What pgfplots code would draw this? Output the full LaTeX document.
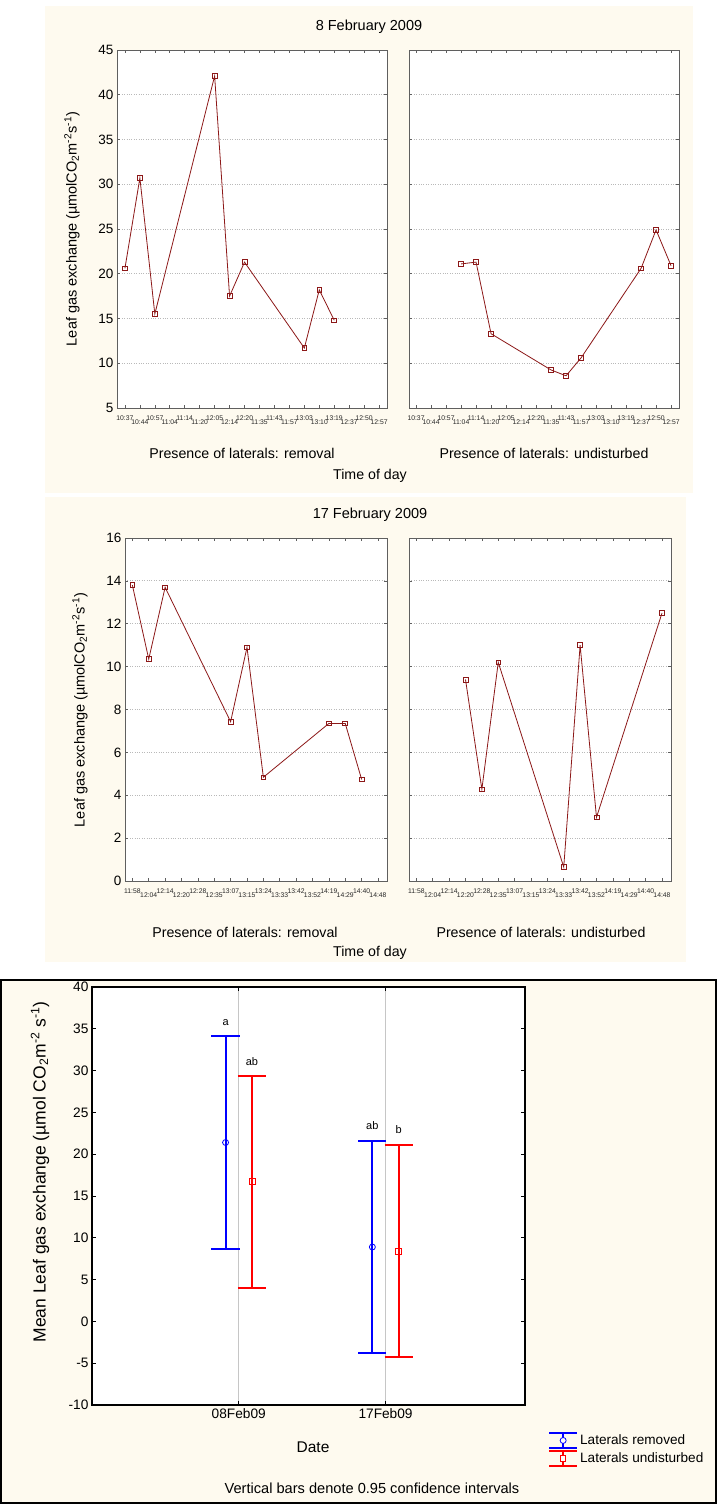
\documentclass[border=0pt]{standalone}
\usepackage{fontspec}
\setmainfont{Liberation Sans}
\usepackage{pgfplots}
\pgfplotsset{compat=1.18}
\definecolor{cream}{RGB}{254,250,239}
\definecolor{dred}{RGB}{140,24,24}
\definecolor{framegray}{RGB}{95,95,95}
\definecolor{gridgray}{RGB}{185,185,185}
\pgfplotsset{
  timeaxis/.style={
    scale only axis, anchor=south west,
    axis background/.style={fill=white},
    axis line style={framegray, line width=1pt},
    every tick/.style={framegray, line width=0.6pt},
    major tick length=3pt, tick align=inside,
    xtick pos=both, ytick pos=both,
    ymajorgrids, grid style={gridgray, dotted, line width=0.8pt},
    xticklabel style={font=\fontsize{6.8}{8}\selectfont, align=center, text=black!85, inner sep=0pt, yshift=-8pt},
    yticklabel style={font=\fontsize{13.5}{15}\selectfont},
    /pgf/number format/assume math mode=true,
    clip=false,
  },
  ser/.style={dred, line width=0.8pt, mark=square, mark size=2.4pt, mark options={fill=white, line width=0.7pt, solid}},
  bluebar/.style={blue, line width=2pt, forget plot},
  redbar/.style={red, line width=2pt, forget plot},
}
\newcommand{\lab}{\fontsize{14.2}{16}\selectfont}
\newcommand{\ylab}{\fontsize{14.5}{16}\selectfont}
\begin{document}
\begin{tikzpicture}
\useasboundingbox (0pt,0pt) rectangle (717pt,-1504pt);
\fill[white] (0pt,0pt) rectangle (717pt,-1504pt);
% panel backgrounds
\fill[cream] (45pt,-6pt) rectangle (693pt,-493pt);
\fill[cream] (45pt,-497pt) rectangle (686pt,-962pt);
\draw[black, line width=1.5pt, fill=cream] (1pt,-980pt) rectangle (716pt,-1503pt);

% ---------------- 8 February 2009 ----------------
\begin{axis}[timeaxis, at={(117pt,-408pt)}, width=270pt, height=358pt,
  xmin=-0.53, xmax=17.53, ymin=5, ymax=45, ytick={5,10,...,45},
  xtick={0,...,17},
  xticklabels={10:37,{\mbox{}\\10:44},10:57,{\mbox{}\\11:04},11:14,{\mbox{}\\11:20},12:05,{\mbox{}\\12:14},12:20,{\mbox{}\\11:35},11:43,{\mbox{}\\11:57},13:03,{\mbox{}\\13:10},13:19,{\mbox{}\\12:37},12:50,{\mbox{}\\12:57}}]
\addplot[ser] coordinates {(0,20.6)(1,30.7)(2,15.5)(6,42.1)(7,17.5)(8,21.3)(12,11.7)(13,18.2)(14,14.8)};
\end{axis}
\begin{axis}[timeaxis, at={(409pt,-408pt)}, width=270pt, height=358pt,
  xmin=-0.47, xmax=17.53, ymin=5, ymax=45, ytick={5,10,...,45}, yticklabels={},
  xtick={0,...,17},
  xticklabels={10:37,{\mbox{}\\10:44},10:57,{\mbox{}\\11:04},11:14,{\mbox{}\\11:20},12:05,{\mbox{}\\12:14},12:20,{\mbox{}\\11:35},11:43,{\mbox{}\\11:57},13:03,{\mbox{}\\13:10},13:19,{\mbox{}\\12:37},12:50,{\mbox{}\\12:57}}]
\addplot[ser] coordinates {(3,21.1)(4,21.3)(5,13.3)(9,9.25)(10,8.6)(11,10.6)(15,20.6)(16,24.9)(17,20.9)};
\end{axis}
\node[font=\fontsize{14.5}{16}\selectfont] at (369pt,-27pt) {8 February 2009};
\node[font=\lab] at (242pt,-453pt) {Presence of laterals: removal};
\node[font=\lab] at (544pt,-453pt) {Presence of laterals: undisturbed};
\node[font=\lab] at (370pt,-476pt) {Time of day};
\node[font=\ylab, rotate=90] at (72pt,-229pt) {Leaf gas exchange (µmolCO\textsubscript{2}m\textsuperscript{-2}s\textsuperscript{-1})};

% ---------------- 17 February 2009 ----------------
\begin{axis}[timeaxis, at={(125pt,-881pt)}, width=262pt, height=343pt,
  xmin=-0.45, xmax=15.55, ymin=0, ymax=16, ytick={0,2,...,16},
  xtick={0,...,15},
  xticklabels={11:58,{\mbox{}\\12:04},12:14,{\mbox{}\\12:20},12:28,{\mbox{}\\12:35},13:07,{\mbox{}\\13:15},13:24,{\mbox{}\\13:33},13:42,{\mbox{}\\13:52},14:19,{\mbox{}\\14:29},14:40,{\mbox{}\\14:48}}]
\addplot[ser] coordinates {(0,13.8)(1,10.35)(2,13.7)(6,7.43)(7,10.9)(8,4.84)(12,7.35)(13,7.35)(14,4.74)};
\end{axis}
\begin{axis}[timeaxis, at={(409pt,-881pt)}, width=262pt, height=343pt,
  xmin=-0.45, xmax=15.55, ymin=0, ymax=16, ytick={0,2,...,16}, yticklabels={},
  xtick={0,...,15},
  xticklabels={11:58,{\mbox{}\\12:04},12:14,{\mbox{}\\12:20},12:28,{\mbox{}\\12:35},13:07,{\mbox{}\\13:15},13:24,{\mbox{}\\13:33},13:42,{\mbox{}\\13:52},14:19,{\mbox{}\\14:29},14:40,{\mbox{}\\14:48}}]
\addplot[ser] coordinates {(3,9.4)(4,4.28)(5,10.2)(9,0.65)(10,11.0)(11,2.97)(15,12.5)};
\end{axis}
\node[font=\fontsize{14.5}{16}\selectfont] at (370pt,-515pt) {17 February 2009};
\node[font=\lab] at (245pt,-932pt) {Presence of laterals: removal};
\node[font=\lab] at (541pt,-932pt) {Presence of laterals: undisturbed};
\node[font=\lab] at (370pt,-953pt) {Time of day};
\node[font=\ylab, rotate=90] at (80pt,-710pt) {Leaf gas exchange (µmolCO\textsubscript{2}m\textsuperscript{-2}s\textsuperscript{-1})};

% ---------------- means with CIs ----------------
\begin{axis}[scale only axis, anchor=south west, at={(92pt,-1405pt)}, width=433pt, height=418pt,
  xmin=0, xmax=2.95, ymin=-10, ymax=40, ytick={-10,-5,...,40},
  xtick={1,2}, xticklabels={08Feb09,17Feb09},
  axis background/.style={fill=white},
  axis line style={black, line width=1.3pt},
  every tick/.style={black, line width=0.8pt}, major tick length=4pt, tick align=inside,
  xmajorgrids, grid style={gray!45, line width=0.6pt},
  ticklabel style={font=\fontsize{13.7}{15}\selectfont},
  /pgf/number format/assume math mode=true,
  clip=false,
  legend style={draw=none, fill=none, at={(1.053,-0.064)}, anchor=north west, inner sep=0pt,
    font=\fontsize{13.6}{15}\selectfont, row sep=1pt},
  legend cell align=left,
]
% 95% confidence intervals: Laterals removed (blue)
\addplot[bluebar] coordinates {(0.91,8.7) (0.91,34.1)};
\addplot[bluebar] coordinates {(0.814,34.1) (1.006,34.1)};
\addplot[bluebar] coordinates {(0.814,8.7) (1.006,8.7)};
\addplot[bluebar] coordinates {(1.91,-3.8) (1.91,21.6)};
\addplot[bluebar] coordinates {(1.814,21.6) (2.006,21.6)};
\addplot[bluebar] coordinates {(1.814,-3.8) (2.006,-3.8)};
% Laterals undisturbed (red)
\addplot[redbar] coordinates {(1.09,4.0) (1.09,29.4)};
\addplot[redbar] coordinates {(0.994,29.4) (1.186,29.4)};
\addplot[redbar] coordinates {(0.994,4.0) (1.186,4.0)};
\addplot[redbar] coordinates {(2.09,-4.3) (2.09,21.1)};
\addplot[redbar] coordinates {(1.994,21.1) (2.186,21.1)};
\addplot[redbar] coordinates {(1.994,-4.3) (2.186,-4.3)};
% means
\addplot[blue, only marks, mark=o, mark size=3pt, mark options={fill=white, line width=0.8pt},
  legend image code/.code={
  \draw[blue,line width=2pt] (-14pt,7.5pt)--(14pt,7.5pt);
  \draw[blue,line width=2pt] (0pt,7.5pt)--(0pt,-7.5pt);
  \draw[blue,line width=2pt] (-14pt,-7.5pt)--(14pt,-7.5pt);
  \draw[blue,line width=0.8pt,fill=white] (0pt,0pt) circle (3pt);}]
  coordinates {(0.91,21.4) (1.91,8.9)};
\addlegendentry{Laterals removed}
\addplot[red, only marks, mark=square, mark size=3pt, mark options={fill=white, line width=0.8pt},
  legend image code/.code={
  \draw[red,line width=2pt] (-14pt,7.5pt)--(14pt,7.5pt);
  \draw[red,line width=2pt] (0pt,7.5pt)--(0pt,-7.5pt);
  \draw[red,line width=2pt] (-14pt,-7.5pt)--(14pt,-7.5pt);
  \draw[red,line width=0.8pt,fill=white] (-2.6pt,-2.6pt) rectangle (2.6pt,2.6pt);}]
  coordinates {(1.09,16.7) (2.09,8.4)};
\addlegendentry{Laterals undisturbed}
\node[font=\fontsize{11}{12}\selectfont] at (axis cs:0.91,35.8) {a};
\node[font=\fontsize{11}{12}\selectfont] at (axis cs:1.09,31.1) {ab};
\node[font=\fontsize{11}{12}\selectfont] at (axis cs:1.91,23.4) {ab};
\node[font=\fontsize{11}{12}\selectfont] at (axis cs:2.09,22.9) {b};
\end{axis}
\node[font=\fontsize{15.5}{17}\selectfont] at (313pt,-1447pt) {Date};
\node[font=\fontsize{14.6}{16}\selectfont] at (372pt,-1488pt) {Vertical bars denote 0.95 confidence intervals};
\node[font=\fontsize{17.5}{19}\selectfont, rotate=90] at (40pt,-1172pt) {Mean Leaf gas exchange (µmol CO\textsubscript{2}m\textsuperscript{-2} s\textsuperscript{-1})};
\draw[black, line width=1.5pt] (1pt,-980pt) rectangle (716pt,-1503pt);
\end{tikzpicture}
\end{document}
